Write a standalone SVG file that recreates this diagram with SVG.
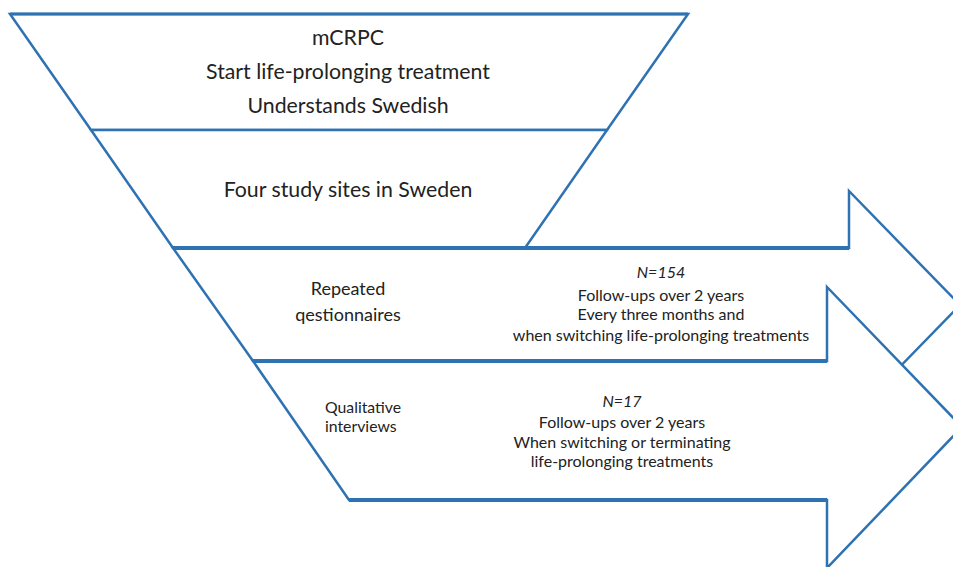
<svg xmlns="http://www.w3.org/2000/svg" width="953" height="567" viewBox="0 0 953 567">
<style>
.sh{fill:#fff;stroke:#2E72B2;stroke-width:2.5;stroke-linejoin:miter}
.thick{stroke:#2E72B2;stroke-width:4;fill:none}
.top{stroke:#2E72B2;stroke-width:3;fill:none}
text{font-family:Lato,"Liberation Sans",sans-serif;fill:#222;text-anchor:middle}
.f1{font-size:21.3px}
.f2{font-size:16px}
.f3{font-size:18px}
.f4{font-size:15.8px}
.it{font-style:italic}
</style>
<rect width="953" height="567" fill="#fff"/>
<g id="criteria">
<polygon class="sh" points="10,14 688,14 607,130 91,130"/>
<line class="top" x1="10" y1="14" x2="688" y2="14"/>
<text class="f1" x="348" y="45">mCRPC</text>
<text class="f1" x="348" y="79">Start life-prolonging treatment</text>
<text class="f1" x="348" y="113">Understands Swedish</text>
</g>
<g id="sites">
<polygon class="sh" points="91,130 607,130 525,248 173,248"/>
<text class="f1" x="348" y="197">Four study sites in Sweden</text>
</g>
<g id="questionnaires">
<polygon class="sh" points="173,248 849,248 849,191 960,305 849,419 849,361 253,361"/>
<line class="thick" x1="173" y1="248" x2="849" y2="248"/>
<text class="f3" x="348" y="295">Repeated</text>
<text class="f3" x="348" y="321">qestionnaires</text>
<text class="f2 it" x="661" y="278">N=154</text>
<text class="f2" x="661" y="301">Follow-ups over 2 years</text>
<text class="f2" x="661" y="320">Every three months and</text>
<text class="f2" x="661" y="341">when switching life-prolonging treatments</text>
</g>
<g id="interviews">
<polygon class="sh" points="253,361 827,361 827,287 962,427 827,568 827,500 349,500"/>
<line class="thick" x1="253" y1="361" x2="827" y2="361"/>
<line class="thick" x1="349" y1="500" x2="827" y2="500"/>
<text class="f4" x="325" y="413" style="text-anchor:start">Qualitative</text>
<text class="f4" x="325" y="432" style="text-anchor:start">interviews</text>
<text class="f2 it" x="622" y="407">N=17</text>
<text class="f2" x="622" y="428">Follow-ups over 2 years</text>
<text class="f2" x="622" y="448">When switching or terminating</text>
<text class="f2" x="622" y="467">life-prolonging treatments</text>
</g>
<g id="connectors"></g>
</svg>
